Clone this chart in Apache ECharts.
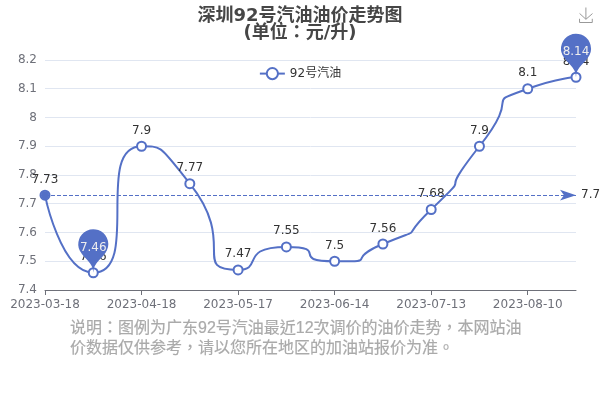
<!DOCTYPE html>
<html><head><meta charset="utf-8">
<style>html,body{margin:0;padding:0;background:#fff}#c{width:600px;height:400px}</style>
<script src="https://cdn.jsdelivr.net/npm/echarts@6/dist/echarts.min.js"></script>
</head><body><div id="c"></div>
<script>
var categories=['2023-03-18','2023-04-01','2023-04-18','2023-05-04','2023-05-17','2023-05-31','2023-06-14','2023-06-29','2023-07-13','2023-07-27','2023-08-10','2023-08-24'];
var prices=[7.73,7.46,7.9,7.77,7.47,7.55,7.5,7.56,7.68,7.9,8.1,8.14];
var refValue=7.73;
var seriesName='92号汽油';
var titleText='深圳92号汽油油价走势图\n(单位：元/升)';
var noteText='说明：图例为广东92号汽油最近12次调价的油价走势，本网站油\n价数据仅供参考，请以您所在地区的加油站报价为准。';
var FONT='"DejaVu Sans","Noto Sans CJK TC"';
var NOTE_FONT='"Liberation Sans","Noto Sans CJK TC"';
var chart=echarts.init(document.getElementById('c'),null,{renderer:'canvas'});
chart.setOption({
 animation:false,
 color:['#5470c6'],
 textStyle:{fontFamily:FONT},
 title:[{text:titleText,left:295,top:3,textAlign:'center',textStyle:{fontFamily:FONT,fontSize:18,fontWeight:'bold',color:'#464646',lineHeight:17,align:'center'}},
        {text:noteText,left:65,top:314,textStyle:{fontFamily:NOTE_FONT,fontSize:16,fontWeight:'normal',color:'#aaa',lineHeight:20,textBorderColor:'#aaa',textBorderWidth:0.2}}],
 legend:{data:[seriesName],top:62,left:'center',textStyle:{color:'#333',fontSize:12,fontFamily:FONT}},
 toolbox:{show:true,right:-10,top:-10,iconStyle:{borderColor:'#999',borderWidth:1},feature:{saveAsImage:{}}},
 grid:{left:45,right:24,top:60,bottom:110},
 xAxis:{type:'category',boundaryGap:false,data:categories,axisLabel:{interval:1,color:'#6e7079',fontFamily:FONT,margin:9},axisTick:{show:true,interval:1},axisLine:{lineStyle:{color:'#6e7079'}}},
 yAxis:{type:'value',min:7.4,max:8.2,interval:0.1,axisLabel:{color:'#6e7079',fontFamily:FONT,padding:[3,0,0,0],formatter:function(v){return String(+v.toFixed(1));}},axisLine:{show:false},axisTick:{show:false},splitLine:{lineStyle:{color:'#e0e6f1'}}},
 series:[{name:seriesName,type:'line',data:prices,smooth:1,symbol:'emptyCircle',symbolSize:9,showSymbol:true,lineStyle:{width:2},
   itemStyle:{borderWidth:2},
   label:{show:true,position:'top',distance:4,color:'#333',fontSize:12,fontFamily:FONT},
   markPoint:{data:[{type:'max'},{type:'min'}],label:{fontFamily:FONT,offset:[0,1]}},
   markLine:{data:[{yAxis:refValue}],label:{fontFamily:FONT,formatter:function(p){return p.value.toFixed(1);}}}
 }]
});
</script></body></html>
